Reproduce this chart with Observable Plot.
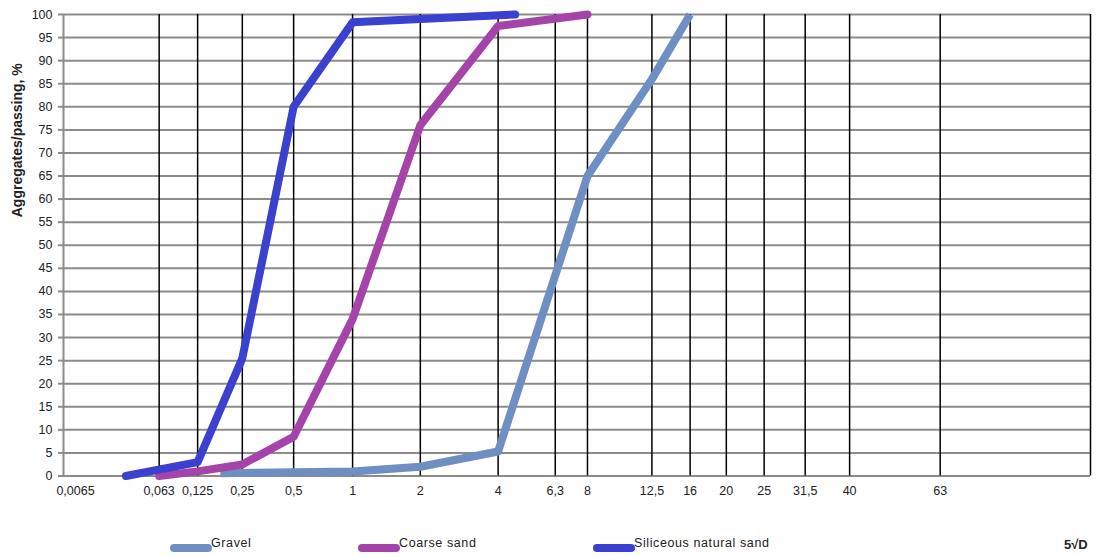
<!DOCTYPE html>
<html>
<head>
<meta charset="utf-8">
<script src="https://cdn.jsdelivr.net/npm/d3@7"></script>
<script src="https://cdn.jsdelivr.net/npm/@observablehq/plot@0.6"></script>
<style>
  body { margin: 0; background: #fff; font-family: "Liberation Sans", Arial, sans-serif; }
  #wrap { width: 1097px; height: 556px; position: relative; overflow: hidden; }
  #legend { position: relative; height: 48px; }
  .sw { position: absolute; height: 8px; width: 42px; border-radius: 4px; top: 36px; }
  .lt { position: absolute; top: 28px; font-size: 12.5px; line-height: 14px; color: #222; letter-spacing: 0.6px; white-space: nowrap; }
  .axisname { position: absolute; top: 30px; left: 1064px; font-size: 13px; font-weight: bold; line-height: 14px; color: #222; }
</style>
</head>
<body>
<div id="wrap">
  <div id="chart"></div>
  <div id="legend"></div>
</div>
<script>
// Sieve sizes (mm) used as vertical grid ticks
const sizeTicks  = [0.063, 0.125, 0.25, 0.5, 1, 2, 4, 6.3, 8, 12.5, 16, 20, 25, 31.5, 40, 63];
const sizeLabels = ["0,063", "0,125", "0,25", "0,5", "1", "2", "4", "6,3", "8", "12,5", "16", "20", "25", "31,5", "40", "63"];
const xMin = 0.0065;
const xMinLabel = "0,0065";
const xMax = 123.5;

// Passing percentage ticks
const passTicks = [0, 5, 10, 15, 20, 25, 30, 35, 40, 45, 50, 55, 60, 65, 70, 75, 80, 85, 90, 95, 100];

// Series
const seriesNames  = ["Gravel", "Coarse sand", "Siliceous natural sand"];
const seriesColors = ["#6f8fc3", "#a444a8", "#3b40cf"];

const gravelSize = [0.18, 0.5, 1, 2, 4, 8, 12.5, 16];
const gravelPass = [0.6, 0.8, 1, 2, 5.3, 65, 86, 100];

const coarseSize = [0.063, 0.125, 0.25, 0.5, 1, 2, 4, 8];
const coarsePass = [0, 1, 2.5, 8.5, 34, 76, 97.5, 100];

const silicSize = [0.032, 0.125, 0.25, 0.5, 1, 2, 4.6];
const silicPass = [0, 3, 25.5, 80, 98.3, 99, 100];

const yTitle = "Aggregates/passing, %";
const xTitle = "5√D";

const rows = (sizes, pass, name) => sizes.map((d, i) => ({ series: name, D: d, P: pass[i] }));
const gravelRows = rows(gravelSize, gravelPass, seriesNames[0]);
const coarseRows = rows(coarseSize, coarsePass, seriesNames[1]);
const silicRows  = rows(silicSize, silicPass, seriesNames[2]);

const chart = Plot.plot({
  width: 1097,
  height: 508,
  marginLeft: 63,
  marginRight: 7,
  marginTop: 14,
  marginBottom: 32.5,
  style: { fontFamily: "'Liberation Sans', Arial, sans-serif", fontSize: "12px", color: "#222", background: "#fff", overflow: "visible" },
  x: { type: "pow", exponent: 0.2, domain: [xMin, xMax] },
  y: { domain: [0, 100] },
  marks: [
    Plot.gridY(passTicks, { stroke: "#8c8c8c", strokeOpacity: 1, strokeWidth: 2 }),
    Plot.gridX(sizeTicks, { stroke: "#000", strokeOpacity: 1, strokeWidth: 1.5 }),
    Plot.ruleX([xMax], { stroke: "#000", strokeWidth: 1.5 }),
    Plot.ruleX([xMin], { stroke: "#8c8c8c", strokeWidth: 2 }),
    Plot.axisY(passTicks, { tickSize: 5, tickPadding: 6, stroke: "#8c8c8c", strokeWidth: 2, label: null, letterSpacing: 0.6, fontSize: 12.5 }),
    Plot.axisX(sizeTicks, { tickSize: 0, tickPadding: 10, label: null, letterSpacing: 0.9, fontSize: 12.5,
      tickFormat: d => sizeLabels[sizeTicks.indexOf(d)] }),
    Plot.axisX([xMin], { tickSize: 0, tickPadding: 10, label: null, dx: 12, letterSpacing: 0.9, fontSize: 12.5,
      tickFormat: () => xMinLabel }),
    Plot.text([yTitle], { frameAnchor: "left", dx: -46, dy: -105, rotate: -90, text: d => d,
      textAnchor: "middle", fontWeight: "bold", fontSize: 14, letterSpacing: 2.4, fill: "#222" }),
    Plot.line(gravelRows, { x: "D", y: "P", stroke: seriesColors[0], strokeWidth: 8, strokeLinecap: "butt", strokeLinejoin: "round" }),
    Plot.line(coarseRows, { x: "D", y: "P", stroke: seriesColors[1], strokeWidth: 8, strokeLinejoin: "round" }),
    Plot.line(silicRows,  { x: "D", y: "P", stroke: seriesColors[2], strokeWidth: 8, strokeLinejoin: "round" })
  ]
});
document.getElementById("chart").appendChild(chart);

// Legend below the SVG
const legend = document.getElementById("legend");
const legendLeft = [170, 358, 593];
seriesNames.forEach((name, i) => {
  const sw = document.createElement("div");
  sw.className = "sw";
  sw.style.left = legendLeft[i] + "px";
  sw.style.background = seriesColors[i];
  legend.appendChild(sw);
  const t = document.createElement("div");
  t.className = "lt";
  t.style.left = (legendLeft[i] + 41) + "px";
  t.textContent = name;
  legend.appendChild(t);
});
const an = document.createElement("div");
an.className = "axisname";
an.textContent = xTitle;
legend.appendChild(an);
</script>
</body>
</html>
